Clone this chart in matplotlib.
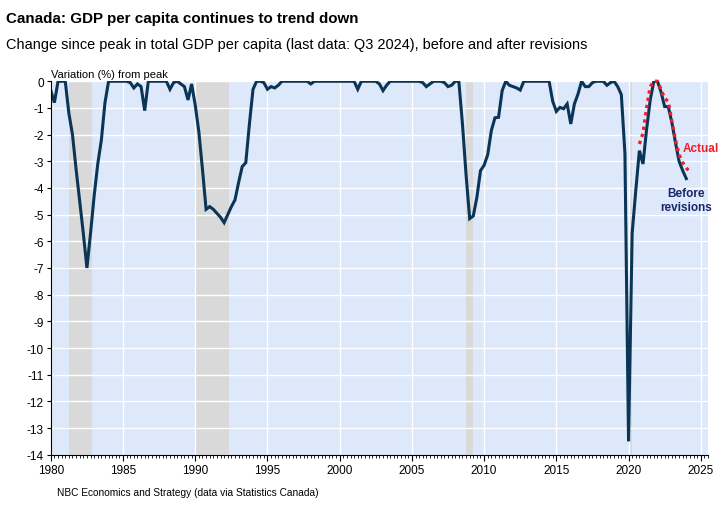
import numpy as np
import matplotlib.pyplot as plt
from matplotlib.ticker import MultipleLocator
from matplotlib import font_manager

# change since peak in GDP per capita (%), quarterly, first point plotted at 1980.0
before_rev = [
    -0.35, -0.8, 0, 0,         # 1980
    0, -1.2, -2.0, -3.3,       # 1981
    -4.5, -5.7, -7.0, -5.7,    # 1982
    -4.3, -3.1, -2.2, -0.8,    # 1983
    0, 0, 0, 0,                # 1984
    0, 0, -0.05, -0.25,        # 1985
    -0.1, -0.2, -1.1, 0,       # 1986
    0, 0, 0, 0,                # 1987
    0, -0.3, -0.05, 0,         # 1988
    -0.1, -0.2, -0.7, -0.1,    # 1989
    -0.9, -1.9, -3.3, -4.8,    # 1990
    -4.7, -4.8, -4.95, -5.1,   # 1991
    -5.3, -5.0, -4.7, -4.45,   # 1992
    -3.8, -3.2, -3.05, -1.6,   # 1993
    -0.3, 0, 0, -0.05,         # 1994
    -0.3, -0.2, -0.25, -0.15,  # 1995
    0, 0, 0, 0,                # 1996
    0, 0, 0, 0,                # 1997
    -0.1, 0, 0, 0,             # 1998
    0, 0, 0, 0,                # 1999
    0, 0, 0, 0,                # 2000
    0, -0.3, 0, 0,             # 2001
    0, 0, 0, -0.1,             # 2002
    -0.35, -0.15, 0, 0,        # 2003
    0, 0, 0, 0,                # 2004
    0, 0, 0, -0.05,            # 2005
    -0.2, -0.1, 0, 0,          # 2006
    0, -0.05, -0.2, -0.15,     # 2007
    0, 0, -1.6, -3.5,          # 2008
    -5.15, -5.05, -4.35, -3.35,  # 2009
    -3.15, -2.75, -1.85, -1.37,  # 2010
    -1.35, -0.35, 0, -0.15,    # 2011
    -0.2, -0.25, -0.33, 0,     # 2012
    0, 0, 0, 0,                # 2013
    0, 0, 0, -0.75,            # 2014
    -1.13, -0.98, -1.03, -0.85,  # 2015
    -1.6, -0.85, -0.48, 0,     # 2016
    -0.2, -0.2, -0.05, 0,      # 2017
    0, 0, -0.15, -0.05,        # 2018
    0, -0.2, -0.5, -2.7,       # 2019
    -13.5, -5.7, -4.1, -2.6,   # 2020
    -3.1, -1.8, -0.7, 0,       # 2021
    0, -0.4, -0.95, -0.95,     # 2022
    -1.55, -2.3, -3.0, -3.35,  # 2023
    -3.65,                     # 2024
]

# after revisions, from 2020.75
actual = [-2.35, -1.95, -1.0, -0.2, 0, 0, -0.3, -0.65, -0.75,
          -1.5, -2.2, -2.75, -3.05, -3.25, -3.4]
actual_start = 2020.75

recessions = [(1981.25, 1982.83), (1990.0, 1992.33), (2008.75, 2009.25), (2020.0, 2020.25)]

names = {f.name for f in font_manager.fontManager.ttflist}
narrow = 'Liberation Sans Narrow' if 'Liberation Sans Narrow' in names else 'Liberation Sans'
plt.rcParams['font.family'] = ['Liberation Sans', 'DejaVu Sans']

x_before = 1980 + np.arange(len(before_rev)) / 4
x_actual = actual_start + np.arange(len(actual)) / 4

fig = plt.figure(figsize=(7.28, 5.06), dpi=100)
ax = fig.add_axes([0.0698, 0.0994, 0.9027, 0.738])
ax.set_facecolor('#dde8fa')

for a, b in recessions:
    ax.axvspan(a, b, color='#d9d9d9', lw=0, zorder=1)

ax.set_xlim(1980, 2025.5)
ax.set_ylim(-14, 0)
ax.xaxis.set_major_locator(MultipleLocator(5))
ax.xaxis.set_minor_locator(MultipleLocator(0.25))
ax.yaxis.set_major_locator(MultipleLocator(1))
ax.grid(True, color='white', lw=1, zorder=2)
ax.set_axisbelow(False)

ax.plot(x_before, before_rev, color='#0b3556', lw=2.2, zorder=4,
        solid_joinstyle='miter')
ax.plot(x_actual, actual, color='#f0202a', lw=2.4, ls=(0, (1, 1.2)), zorder=5,
        clip_on=False)

for s in ['top', 'right']:
    ax.spines[s].set_visible(False)
ax.spines['left'].set_color('black')
ax.spines['bottom'].set_color('black')
ax.spines['left'].set_zorder(6)
ax.spines['bottom'].set_zorder(6)
ax.tick_params(axis='y', length=3, labelsize=8.5, pad=2)
ax.tick_params(axis='x', which='major', length=4, labelsize=8.5, pad=3)
ax.tick_params(axis='x', which='minor', length=2.5)
ax.set_yticklabels([str(int(v)) for v in ax.get_yticks()])

ax.text(0.0, 1.006, 'Variation (%) from peak', transform=ax.transAxes,
        fontsize=8, va='bottom', ha='left')

ax.text(2023.75, -2.5, 'Actual', color='#f0202a', fontsize=8.5,
        fontweight='bold', va='center', ha='left')
ax.text(2024.0, -4.45, 'Before\nrevisions', color='#17286a', fontsize=8.5,
        fontweight='bold', va='center', ha='center', linespacing=1.2)

fig.text(0.008, 0.976, 'Canada: GDP per capita continues to trend down',
         fontsize=10.9, fontweight='bold', family=[narrow, 'DejaVu Sans'],
         va='top', ha='left')
fig.text(0.008, 0.925, 'Change since peak in total GDP per capita (last data: Q3 2024), '
         'before and after revisions', fontsize=10.45, family=[narrow, 'DejaVu Sans'],
         va='top', ha='left')
fig.text(0.078, 0.026, 'NBC Economics and Strategy (data via Statistics Canada)',
         fontsize=7.3, family=[narrow, 'DejaVu Sans'], va='center', ha='left')

fig.savefig('out.png', dpi=100)
